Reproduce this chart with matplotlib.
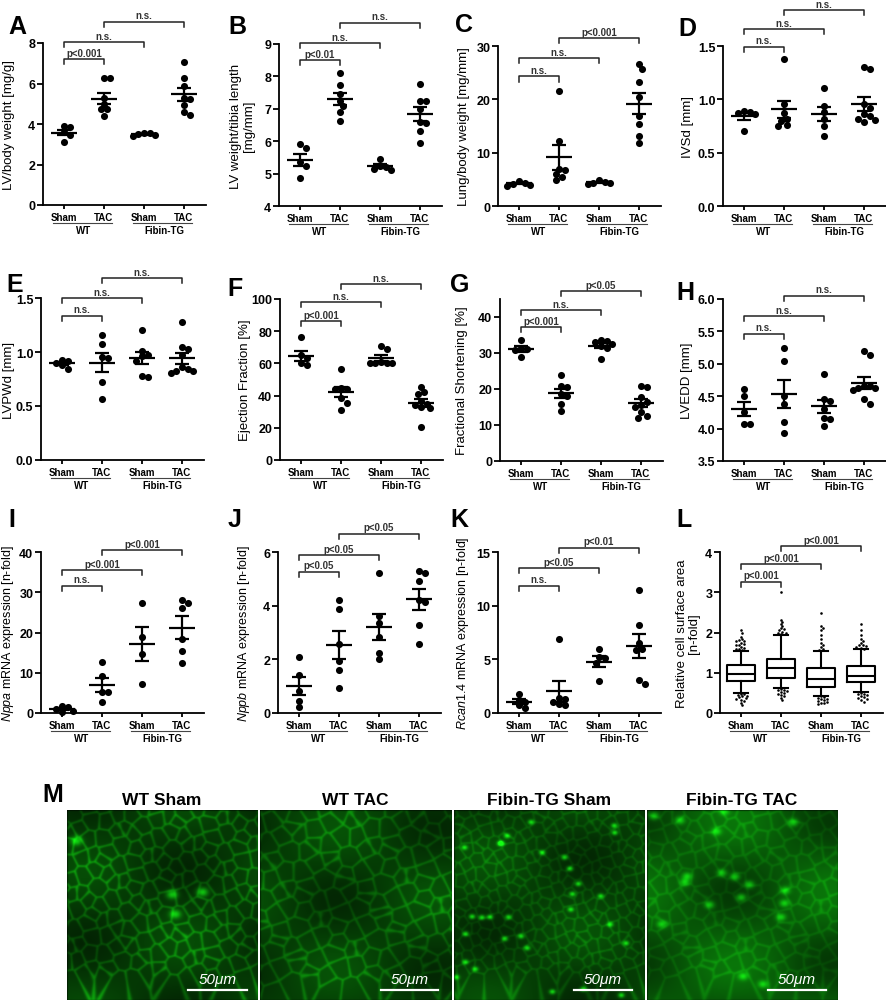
import numpy as np
import matplotlib
matplotlib.use("Agg")
import matplotlib.pyplot as plt

plt.rcParams['font.family'] = ['Liberation Sans', 'DejaVu Sans']
plt.rcParams['mathtext.fontset'] = 'custom'
plt.rcParams['mathtext.it'] = 'Liberation Sans:italic'
plt.rcParams['mathtext.rm'] = 'Liberation Sans'

# ---------------- data ----------------
groups = ['Sham', 'TAC', 'Sham', 'TAC']
genotypes = ['WT', 'Fibin-TG']

lv_bw = [[3.9, 3.85, 3.6, 3.45, 3.1],
         [6.25, 6.25, 5.3, 5.0, 4.75, 4.75, 4.4],
         [3.58, 3.55, 3.5, 3.45, 3.4],
         [7.05, 6.25, 5.9, 5.3, 5.25, 4.95, 4.6, 4.45]]
lv_tl = [[5.9, 5.78, 5.35, 5.25, 4.85],
         [8.1, 7.73, 7.47, 7.25, 7.1, 6.9, 6.63],
         [5.45, 5.25, 5.2, 5.15, 5.1],
         [7.78, 7.25, 7.25, 7.0, 6.6, 6.55, 6.3, 5.95]]
lung_bw = [[4.7, 4.4, 4.2, 4.0, 3.8],
           [21.5, 12.2, 7.0, 6.7, 6.0, 5.5, 4.8],
           [4.8, 4.5, 4.4, 4.3, 4.1],
           [26.6, 25.7, 23.3, 20.4, 16.9, 15.4, 13.2, 11.9]]
ivsd = [[0.89, 0.88, 0.87, 0.86, 0.70],
        [1.38, 0.955, 0.87, 0.82, 0.80, 0.76, 0.75],
        [1.11, 0.94, 0.88, 0.82, 0.75, 0.66],
        [1.30, 1.28, 0.96, 0.92, 0.86, 0.84, 0.82, 0.81, 0.79]]
lvpwd = [[0.93, 0.92, 0.90, 0.88, 0.84],
         [1.16, 1.075, 0.95, 0.94, 0.72, 0.565],
         [1.20, 1.01, 0.97, 0.96, 0.92, 0.775, 0.77],
         [1.28, 1.045, 1.03, 0.97, 0.86, 0.84, 0.82, 0.82, 0.81]]
ef = [[76.5, 65.3, 63.5, 60.2, 59.0],
      [56.8, 44.5, 44.2, 43.8, 38.5, 35.7, 31.1],
      [71.0, 69.0, 61.0, 60.5, 60.0, 60.0, 60.5],
      [45.5, 42.5, 41.0, 36.5, 35.0, 34.0, 33.0, 32.0, 20.7]]
fs = [[33.5, 31.5, 31.0, 30.8, 28.8],
      [24.0, 20.8, 20.5, 18.5, 18.0, 15.8, 13.8],
      [33.5, 33.2, 33.0, 32.5, 32.0, 31.5, 28.2],
      [20.9, 20.5, 17.7, 16.5, 15.5, 15.0, 13.5, 12.5, 12.0]]
lvedd = [[4.61, 4.51, 4.26, 4.07, 4.07],
         [5.25, 5.05, 4.5, 4.38, 4.1, 3.93],
         [4.85, 4.46, 4.42, 4.3, 4.17, 4.15, 4.04],
         [5.2, 5.13, 4.66, 4.65, 4.63, 4.62, 4.6, 4.45, 4.38]]
nppa = [[1.8, 1.4, 1.0, 0.5, 0.3],
        [12.7, 9.2, 5.3, 5.2, 2.8],
        [27.4, 18.9, 14.6, 7.3],
        [28.1, 27.3, 26.0, 18.3, 15.4, 12.3]]
nppb = [[2.07, 1.4, 0.83, 0.46, 0.21],
        [4.2, 3.87, 2.57, 1.95, 1.6, 0.95],
        [5.23, 3.6, 3.35, 2.85, 2.23, 2.0],
        [5.3, 5.23, 4.92, 4.2, 4.15, 3.27, 2.57]]
rcan = [[1.77, 1.25, 1.0, 0.7, 0.45],
        [6.9, 1.4, 1.3, 1.0, 0.8, 0.7],
        [5.95, 5.2, 5.1, 4.7, 3.0],
        [11.5, 8.2, 6.5, 6.0, 5.9, 3.1, 2.7]]

# cell surface area box plots (L)
csa_med = [0.97, 1.11, 0.846, 0.93]
csa_q1 = [0.805, 0.863, 0.64, 0.763]
csa_q3 = [1.195, 1.345, 1.12, 1.16]
csa_lo = [0.50, 0.614, 0.43, 0.515]
csa_hi = [1.53, 1.94, 1.53, 1.59]
csa_out = [[2.05, 2.0, 1.9, 1.85, 1.82, 1.8, 1.78, 1.75, 1.72, 1.7, 1.68, 1.65, 1.62, 1.6, 1.58, 1.56,
            0.48, 0.47, 0.45, 0.43, 0.42, 0.4, 0.38, 0.36, 0.33, 0.3, 0.25, 0.2],
           [3.0, 2.3, 2.25, 2.2, 2.15, 2.1, 2.08, 2.05, 2.02, 2.0, 1.98, 1.96,
            0.6, 0.58, 0.57, 0.55, 0.52, 0.5, 0.48, 0.45, 0.42, 0.38, 0.33],
           [2.48, 2.15, 2.1, 2.05, 1.95, 1.85, 1.75, 1.7, 1.65, 1.6, 1.57,
            0.42, 0.4, 0.38, 0.36, 0.34, 0.32, 0.3, 0.28, 0.26, 0.24, 0.22],
           [2.22, 2.05, 1.95, 1.85, 1.8, 1.75, 1.7, 1.68, 1.66, 1.64, 1.62, 1.6,
            0.5, 0.48, 0.46, 0.44, 0.42, 0.4, 0.38, 0.36, 0.32, 0.28]]

pairs = [(0, 1), (0, 2), (1, 3)]

W, H = 886, 1003
fig = plt.figure(figsize=(W / 100, H / 100), dpi=100)


def px_axes(left, top, w, h):
    return fig.add_axes([left / W, 1 - (top + h) / H, w / W, h / H])


def swarm(vals, px_per_unit, d, gap=0.72, step=0.38):
    # simple beeswarm: dots at similar heights sit side by side, overlapping a little
    vals = np.asarray(vals, float)
    order = np.argsort(-vals)
    xs = np.zeros(len(vals))
    placed = []
    for i in order:
        y = vals[i] * px_per_unit
        for k in [0, 1, -1, 2, -2, 3, -3, 4, -4, 5, -5, 6, -6, 7, -7]:
            x = k * d * step
            if all(np.hypot(x - px, y - py) >= d * gap for px, py in placed):
                break
        placed.append((x, y))
        xs[i] = x / 40.0
    return xs


def style_axes(ax, letter, ylabel, yticks, ylim, fmt, label_x, pvals, levels, yl_size=9.5):
    ax.set_xlim(-0.52, 3.55)
    ax.set_ylim(*ylim)
    ax.spines['top'].set_visible(False)
    ax.spines['right'].set_visible(False)
    for s in ['left', 'bottom']:
        ax.spines[s].set_linewidth(1.3)
    ax.set_yticks(yticks)
    ax.set_yticklabels([fmt.format(t) for t in yticks], fontsize=9, fontweight='bold')
    ax.set_xticks(range(4))
    ax.set_xticklabels(groups, fontsize=7, fontweight='bold')
    ax.tick_params(axis='y', length=4, width=1.3, pad=1.5)
    ax.tick_params(axis='x', length=3, width=1.3, pad=2)
    ax.set_ylabel(ylabel, fontsize=yl_size, linespacing=1.1)
    ax.yaxis.set_label_coords(label_x, 0.5)
    tr = ax.get_xaxis_transform()
    for g, (c0, c1) in enumerate([(0, 1), (2, 3)]):
        ax.plot([c0 - 0.28, c1 + 0.2], [-0.112, -0.112], transform=tr, clip_on=False,
                color='#444444', lw=0.8)
        ax.annotate(genotypes[g], xy=((c0 + c1) / 2, 0), xycoords=tr, xytext=(0, -20),
                    textcoords='offset pixels', ha='center', va='top', fontsize=7,
                    fontweight='bold')
    for (c0, c1), p, lev in zip(pairs, pvals, levels):
        ax.plot([c0, c0, c1, c1], [lev - 0.032, lev, lev, lev - 0.032], transform=tr,
                clip_on=False, color='#222222', lw=1.1)
        ax.annotate(p, xy=((c0 + c1) / 2, lev), xycoords=tr, xytext=(0, 1.5),
                    textcoords='offset pixels', ha='center', va='bottom', fontsize=7,
                    fontweight='bold', color='#333333')
    fig.text(letter[1] / W, 1 - letter[2] / H, letter[0], fontsize=18, fontweight='bold',
             ha='left', va='top')


def scatter_panel(ax, values, ylim, hpx):
    ppu = hpx / (ylim[1] - ylim[0])
    for c, vals in enumerate(values):
        xs = swarm(vals, ppu, 7.5)
        ax.scatter(c + xs, vals, s=26, color='black', zorder=3, clip_on=False, lw=0)
        m = np.mean(vals)
        se = np.std(vals, ddof=1) / np.sqrt(len(vals))
        ax.hlines(m, c - 0.33, c + 0.33, color='black', lw=1.6, zorder=4)
        ax.vlines(c, m - se, m + se, color='black', lw=1.6, zorder=4)
        ax.hlines([m - se, m + se], c - 0.18, c + 0.18, color='black', lw=1.6, zorder=4)


# panel specs: letter + position, data, axes pixel box
panels = [
    (('A', 8, 15), lv_bw, 'LV/body weight [mg/g]', [0, 2, 4, 6, 8], (0, 8), '{:.0f}', -0.17,
     ['p<0.001', 'n.s.', 'n.s.'], [0.90, 1.006, 1.13], (43, 44, 206), 9.5),
    (('B', 228, 15), lv_tl, 'LV weight/tibia length\n[mg/mm]', [4, 5, 6, 7, 8, 9], (4, 9), '{:.0f}',
     -0.147, ['p<0.01', 'n.s.', 'n.s.'], [0.90, 1.006, 1.13], (279, 45, 207), 9.5),
    (('C', 455, 13), lung_bw, 'Lung/body weight [mg/mm]', [0, 10, 20, 30], (0, 30), '{:.0f}', -0.17,
     ['n.s.', 'n.s.', 'p<0.001'], [0.81, 0.925, 1.05], (498, 47, 207), 9.5),
    (('D', 678, 17), ivsd, 'IVSd [mm]', [0, 0.5, 1.0, 1.5], (0, 1.5), '{:.1f}', -0.18,
     ['n.s.', 'n.s.', 'n.s.'], [0.994, 1.106, 1.225], (723, 47, 207), 9.5),
    (('E', 6, 273), lvpwd, 'LVPWd [mm]', [0, 0.5, 1.0, 1.5], (0, 1.5), '{:.1f}', -0.16,
     ['n.s.', 'n.s.', 'n.s.'], [0.889, 1.0, 1.123], (41, 299, 461), 9.5),
    (('F', 227, 277), ef, 'Ejection Fraction [%]', [0, 20, 40, 60, 80, 100], (0, 100), '{:.0f}', -0.18,
     ['p<0.001', 'n.s.', 'n.s.'], [0.863, 0.981, 1.093], (280, 300, 461), 9.5),
    (('G', 450, 273), fs, 'Fractional Shortening [%]', [0, 10, 20, 30, 40], (0, 45), '{:.0f}', -0.196,
     ['p<0.001', 'n.s.', 'p<0.05'], [0.827, 0.932, 1.049], (500, 300, 462), 9.5),
    (('H', 676, 281), lvedd, 'LVEDD [mm]', [3.5, 4.0, 4.5, 5.0, 5.5, 6.0], (3.5, 6.0), '{:.1f}', -0.185,
     ['n.s.', 'n.s.', 'n.s.'], [0.784, 0.895, 1.019], (723, 300, 462), 9.5),
    (('I', 8, 508), nppa, r'$\it{Nppa}$ mRNA expression [n-fold]', [0, 10, 20, 30, 40], (0, 40), '{:.0f}',
     -0.155, ['n.s.', 'p<0.001', 'p<0.001'], [0.789, 0.888, 1.012], (41, 553, 714), 9),
    (('J', 228, 508), nppb, r'$\it{Nppb}$ mRNA expression [n-fold]', [0, 2, 4, 6], (0, 6), '{:.0f}',
     -0.16, ['p<0.05', 'p<0.05', 'p<0.05'], [0.876, 0.981, 1.112], (278, 553, 714), 9),
    (('K', 450, 508), rcan, r'$\it{Rcan1.4}$ mRNA expression [n-fold]', [0, 5, 10, 15], (0, 15), '{:.0f}',
     -0.165, ['n.s.', 'p<0.05', 'p<0.01'], [0.789, 0.90, 1.025], (498, 553, 714), 9),
]

for letter, values, ylabel, yticks, ylim, fmt, lx, pv, lev, (left, top, bottom), ys in panels:
    ax = px_axes(left, top, 163, bottom - top)
    scatter_panel(ax, values, ylim, bottom - top)
    style_axes(ax, letter, ylabel, yticks, ylim, fmt, lx, pv, lev, ys)

# panel L: box plots of cell surface area
ax = px_axes(720, 553, 163, 161)
stats = [dict(med=csa_med[i], q1=csa_q1[i], q3=csa_q3[i], whislo=csa_lo[i], whishi=csa_hi[i],
              fliers=[]) for i in range(4)]
lp = dict(color='black', lw=1.5)
ax.bxp(stats, positions=range(4), widths=0.7, showfliers=False, boxprops=lp, medianprops=lp,
       whiskerprops=lp, capprops=lp, capwidths=0.35, manage_ticks=False)
for c, vals in enumerate(csa_out):
    xs = swarm(vals, 161 / 4, 3.2, gap=0.8, step=0.5)
    ax.scatter(c + xs, vals, s=3.5, color='black', lw=0, zorder=3)
style_axes(ax, ('L', 676, 508), 'Relative cell surface area\n[n-fold]', [0, 1, 2, 3, 4], (0, 4),
           '{:.0f}', -0.12, ['p<0.001', 'p<0.001', 'p<0.001'], [0.814, 0.925, 1.037], 9.5)


# ---------------- panel M: fluorescence micrographs (decorative texture) ----------------
def blur(a, r):
    k = np.exp(-0.5 * (np.arange(-3 * r, 3 * r + 1) / r) ** 2)
    k /= k.sum()
    a = np.apply_along_axis(lambda v: np.convolve(v, k, mode='same'), 0, a)
    return np.apply_along_axis(lambda v: np.convolve(v, k, mode='same'), 1, a)


def micro(seed, spacing, line_w, bg, gain, n_spots, spot_r, spot_a):
    n = 190
    yy, xx = np.mgrid[0:n, 0:n].astype(np.float32)
    k = np.arange(-1, n // spacing + 2)
    I, J = np.meshgrid(k, k)
    sx = (I * spacing + 0.42 * spacing * np.sin(I * 12.9898 + J * 78.233 + seed)).astype(np.float32)
    sy = (J * spacing * 0.85 + 0.42 * spacing * np.sin(I * 39.346 + J * 11.135 + 2.1 * seed)).astype(np.float32)
    d = np.hypot(xx[..., None] - sx.ravel(), yy[..., None] - sy.ravel())
    d = np.partition(d, 1, axis=2)
    edge = d[..., 1] - d[..., 0]
    lines = np.exp(-(edge / line_w) ** 2)
    shade = 0.5 + 0.5 * np.sin(xx / 31.0 + seed) * np.sin(yy / 23.0 - seed)
    g = bg * (0.55 + 0.6 * shade) + gain * lines * (0.5 + 0.6 * shade)
    for i in range(n_spots):
        cx = (np.sin(i * 91.7 + seed) * 43758.5453) % 1 * n
        cy = (np.sin(i * 47.3 + 3 * seed) * 24634.6345) % 1 * n
        g = g + spot_a * np.exp(-((xx - cx) ** 2 / 1.6 + (yy - cy) ** 2) / (2 * spot_r ** 2))
    g = blur(g, 0.8)
    g = np.clip(g, 0, 1)
    return np.dstack([0.08 * g, g, 0.08 * g])


m_titles = ['WT Sham', 'WT TAC', 'Fibin-TG Sham', 'Fibin-TG TAC']
m_left = [67, 260, 454, 647]
m_bar = [(188, 247), (381, 438), (574, 632), (768, 826)]
m_params = [(1.0, 15, 1.5, 0.26, 0.38, 4, 3.0, 0.6),
            (2.3, 17, 1.6, 0.28, 0.3, 0, 2.0, 0.0),
            (3.7, 12, 1.2, 0.28, 0.24, 30, 1.6, 0.75),
            (5.1, 15, 1.7, 0.40, 0.18, 18, 2.6, 0.5)]
for i in range(4):
    axm = px_axes(m_left[i], 811, 191, 190)
    axm.imshow(micro(*m_params[i]), extent=(0, 191, 190, 0), interpolation='bilinear', aspect='auto')
    axm.set_xlim(0, 191)
    axm.set_ylim(190, 0)
    axm.axis('off')
    b0, b1 = m_bar[i][0] - m_left[i], m_bar[i][1] - m_left[i]
    axm.plot([b0, b1], [180, 180], color='white', lw=1.6)
    axm.text((b0 + b1) / 2, 176, '50μm', color='white', fontsize=11, style='italic',
             ha='center', va='bottom')
    fig.text((m_left[i] + 95) / W, 1 - 801 / H, m_titles[i], fontsize=12.5, fontweight='bold',
             ha='center', va='center')
fig.text(42 / W, 1 - 783 / H, 'M', fontsize=18, fontweight='bold', ha='left', va='top')

fig.savefig('out.png', dpi=100)
